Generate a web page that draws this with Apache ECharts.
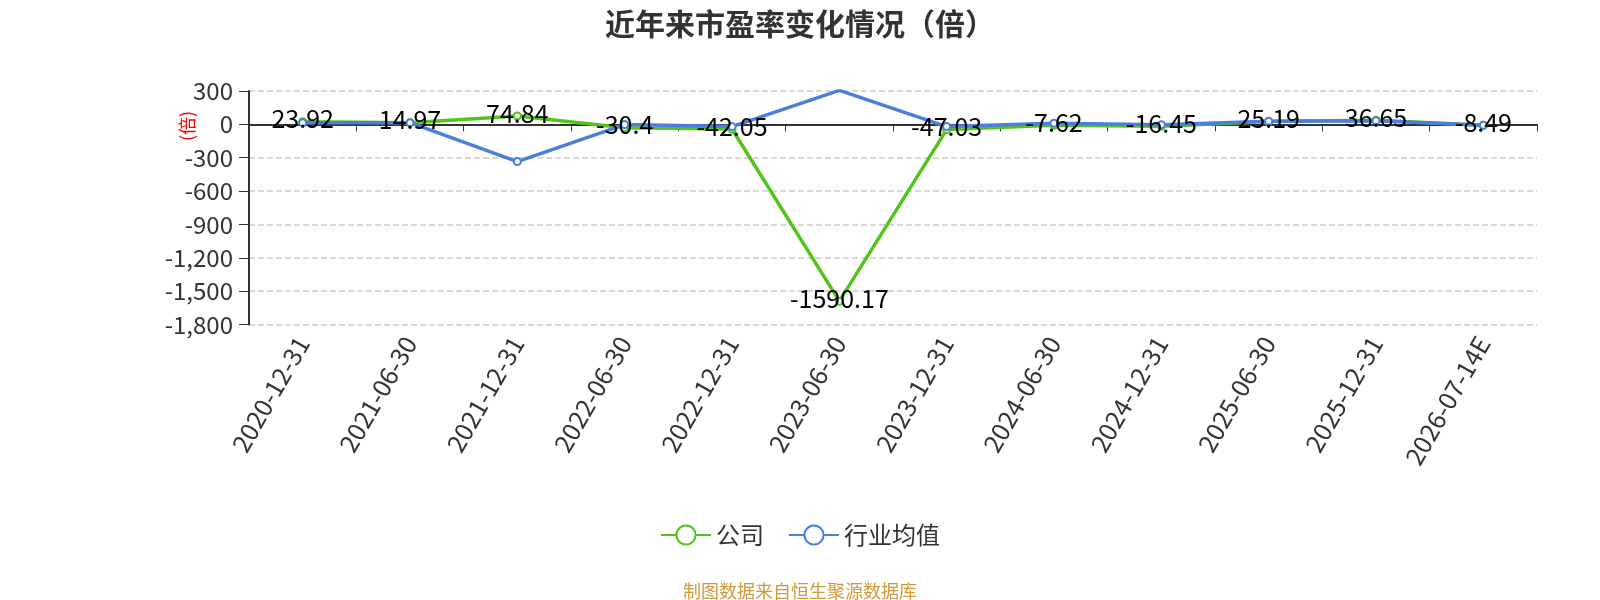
<!DOCTYPE html>
<html>
<head>
<meta charset="utf-8">
<script src="https://cdn.jsdelivr.net/npm/echarts@6/dist/echarts.min.js"></script>
<style>
	html, body { margin: 0; padding: 0; background: #fff; }
	#chart { width: 1600px; height: 600px; }
</style>
</head>
<body>
<div id="chart"></div>
<script>
	// Categories (report dates)
	const categories = ['2020-12-31', '2021-06-30', '2021-12-31', '2022-06-30', '2022-12-31', '2023-06-30',
		'2023-12-31', '2024-06-30', '2024-12-31', '2025-06-30', '2025-12-31', '2026-07-14E'];

	// PE of the company
	const companyPE = [23.92, 14.97, 74.84, -30.4, -42.05, -1590.17, -47.03, -7.62, -16.45, 25.19, 36.65, -8.49];

	// PE industry average
	const industryPE = [15, 15, -335, -2, -20, 305, -20, 10, -3, 28, 33, -8];

	const seriesNames = ['公司', '行业均值'];

	const font = '"Noto Sans CJK SC", "Noto Sans", sans-serif';

	/* ---------------------------------------------
		Chart
	--------------------------------------------- */
	const chart = echarts.init(document.getElementById('chart'));

	const xLabel = {
		rotate: 60,
		fontSize: 25,
		color: '#333',
		margin: 14,
		interval: 0,
	};

	const option = {
		animation: false,
		textStyle: { fontFamily: font },
		color: ['#52c41a', '#4a7fe0'],
		title: [
			{
				text: '近年来市盈率变化情况（倍）',
				left: 'center',
				top: 4,
				textStyle: { fontSize: 30, fontWeight: 'bold', color: '#333', fontFamily: font },
			},
			{
				text: '制图数据来自恒生聚源数据库',
				left: 'center',
				bottom: -5,
				textStyle: { fontSize: 18, fontWeight: 'normal', color: '#cf9a3c', fontFamily: font },
			},
		],
		legend: {
			data: seriesNames,
			left: 'center',
			top: 518,
			itemWidth: 50,
			itemHeight: 24,
			itemGap: 24,
			textStyle: { fontSize: 24, color: '#333' },
		},
		grid: {
			left: 249,
			right: 63,
			top: 91,
			bottom: 275.5,
		},
		graphic: [
			{
				type: 'text',
				x: 187,
				y: 126,
				rotation: Math.PI / 2,
				style: {
					text: '(倍)',
					align: 'center',
					verticalAlign: 'middle',
					fill: '#f00',
					font: `18px ${font}`,
				},
			},
		],
		xAxis: [
			{
				type: 'category',
				data: categories,
				position: 'bottom',
				axisLine: { show: false, onZero: false },
				axisTick: { show: false },
				axisLabel: xLabel,
			},
			{
				type: 'category',
				data: categories,
				position: 'bottom',
				axisLine: { show: true, onZero: true, lineStyle: { color: '#333', width: 2 } },
				axisTick: { show: true, length: 7, lineStyle: { color: '#333' } },
				axisLabel: { show: false },
			},
		],
		yAxis: {
			type: 'value',
			min: -1800,
			max: 300,
			interval: 300,
			axisLine: { show: true, lineStyle: { color: '#333', width: 2 } },
			axisTick: { show: true, length: 10, lineStyle: { color: '#333' } },
			axisLabel: { fontSize: 24, color: '#333', margin: 16 },
			splitLine: { lineStyle: { type: 'dashed', color: '#ccc', width: 1.5 } },
		},
		series: [
			{
				name: seriesNames[0],
				type: 'line',
				data: companyPE,
				symbol: 'emptyCircle',
				symbolSize: 7,
				lineStyle: { width: 3.5 },
				itemStyle: { borderWidth: 2 },
				label: {
					show: true,
					position: 'inside',
					offset: [0, -3],
					fontSize: 25,
					color: '#000',
				},
			},
			{
				name: seriesNames[1],
				type: 'line',
				data: industryPE,
				symbol: 'emptyCircle',
				symbolSize: 7,
				lineStyle: { width: 3.5 },
				itemStyle: { borderWidth: 2 },
			},
		],
	};

	chart.setOption(option);
</script>
</body>
</html>
